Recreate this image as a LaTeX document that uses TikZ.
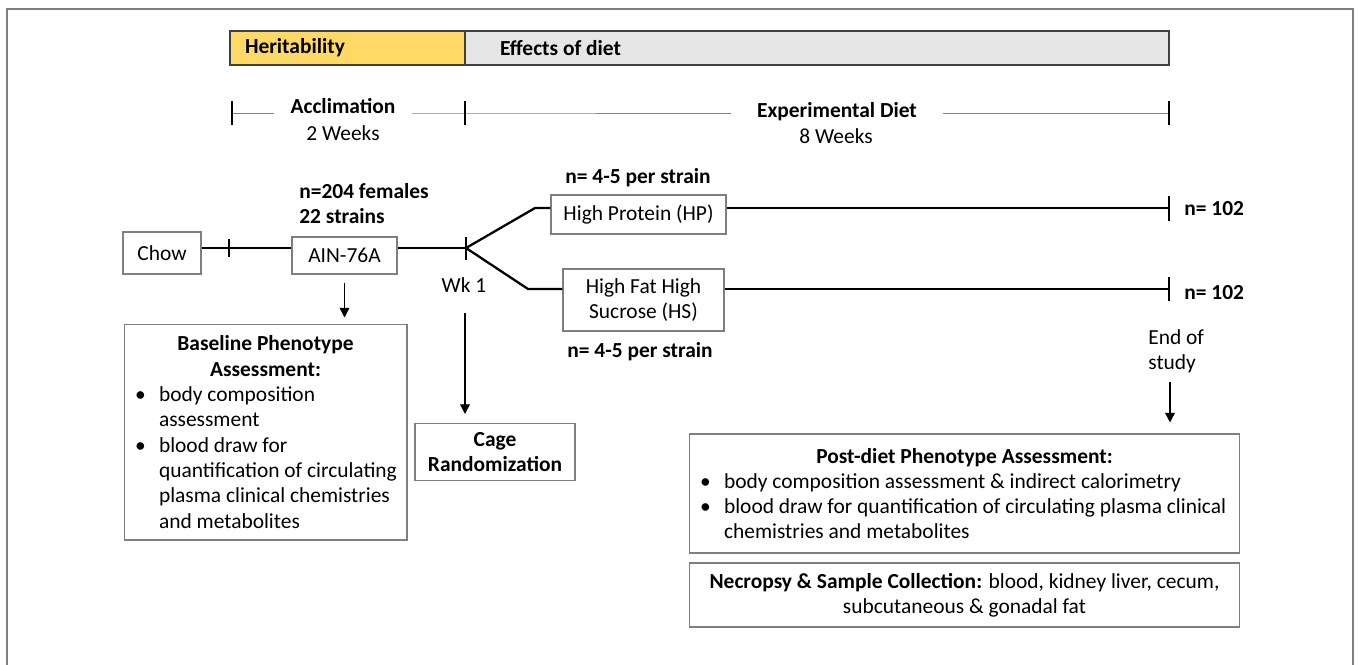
\documentclass[tikz,border=0pt]{standalone}
\usepackage{fontspec}
\setmainfont{Carlito}
\usepackage{tikz}
\usetikzlibrary{arrows.meta}
\definecolor{heritfill}{HTML}{FFD966}
\definecolor{dietfill}{HTML}{E7E6E6}
\definecolor{boxline}{HTML}{7F7F7F}
\definecolor{barline}{HTML}{404040}
\newcommand{\figfont}{\fontsize{12.2}{14.4}\selectfont}
\newcommand{\plainspace}{\spaceskip=0pt\relax\xspaceskip=0pt\relax\raggedright}
\newcommand{\bitem}[1]{\par\noindent\hangindent=7mm\hangafter=1\hbox to 7mm{\hspace{2.2mm}\textbullet\hfil}#1\par}
\tikzstyle{box}=[draw=boxline, line width=0.6pt, inner sep=0pt]
\tikzstyle{bar}=[draw=barline, line width=1.1pt, inner ysep=0pt, minimum height=6.8mm, font=\figfont\bfseries]
\tikzstyle{timeline}=[line width=1.3pt]
\tikzstyle{tick}=[line width=1.1pt]
\tikzstyle{span}=[line width=0.5pt, draw=boxline]
\tikzstyle{arrow}=[line width=0.7pt, -{Triangle[length=5.5pt,width=5.5pt]}]

\begin{document}
\begin{tikzpicture}[x=0.02cm, y=-0.02cm, font=\figfont]
    \useasboundingbox (0,0) rectangle (1358,664);
    \draw[draw=boxline, line width=0.8pt] (7,9) rectangle (1353,700);

    % phase bar
    \node[bar, fill=heritfill, text width=41mm, inner xsep=3mm] (herit) at (347.5,48) {\plainspace Heritability};
    \node[bar, fill=dietfill, text width=126.8mm, inner xsep=7mm] (diet) at (817,48) {\plainspace Effects of diet};

    % periods
    \coordinate (a0) at (232,113);
    \coordinate (a1) at (465,113);
    \coordinate (a2) at (1169,113);
    \node[font=\figfont\bfseries, inner xsep=3.3mm, anchor=base] (acclim) at (343,113) {Acclimation};
    \node[anchor=base] (twowk) at (343,140) {2 Weeks};
    \node[font=\figfont\bfseries, inner xsep=5.2mm, anchor=base] (expdiet) at (837,117) {Experimental Diet};
    \node[anchor=base] (eightwk) at (836,143) {8 Weeks};
    \draw[span] (a0) -- (acclim.west |- a0);
    \draw[span] (acclim.east |- a1) -- (a1) -- (expdiet.west |- a1);
    \draw[span] (expdiet.east |- a2) -- (a2);
    \foreach \c in {a0,a1,a2}
    \draw[tick] ([yshift=2.4mm]\c) -- ([yshift=-2.4mm]\c);

    % diets
    \node[box, minimum width=15.6mm, minimum height=8.4mm] (chow) at (162,253) {Chow};
    \node[box, minimum width=21mm, minimum height=7.4mm] (ain) at (344.5,255.5) {AIN-76A};
    \node[box, minimum width=35mm, minimum height=7.8mm] (hp) at (638.5,214.5) {High Protein (HP)};
    \node[box, minimum width=32.2mm, minimum height=12.4mm, align=center] (hs) at (643.5,300) {High Fat High\\Sucrose (HS)};

    \coordinate (t0) at (229,248);
    \coordinate (wk) at (466,248);
    \coordinate (hpfork) at (535,208);
    \coordinate (hsfork) at (528,289);
    \coordinate (hpend) at (1169,208);
    \coordinate (hsend) at (1169,289);
    \draw[timeline] (chow.east |- t0) -- (ain.west |- t0);
    \draw[timeline] (ain.east |- wk) -- (wk);
    \draw[timeline] (wk) -- (hpfork) -- (hp.west |- hpfork);
    \draw[timeline] (wk) -- (hsfork) -- (hs.west |- hsfork);
    \draw[timeline] (hp.east |- hpend) -- (hpend);
    \draw[timeline] (hs.east |- hsend) -- (hsend);
    \foreach \c/\h in {t0/1.8mm, wk/2.3mm, hpend/2.5mm, hsend/2.4mm}
    \draw[tick] ([yshift=\h]\c) -- ([yshift=-\h]\c);

    \node[font=\figfont\bfseries, anchor=north west, align=left, inner sep=0pt] (cohort) at (299,183) {n=204 females\\22 strains};
    \node[font=\figfont\bfseries, anchor=base] (hpn) at (638,183) {n= 4-5 per strain};
    \node[font=\figfont\bfseries, anchor=base] (hsn) at (640,357) {n= 4-5 per strain};
    \node[anchor=base] (wklabel) at (464,292) {Wk 1};
    \node[font=\figfont\bfseries, anchor=base west, inner sep=0pt] (hpend n) at (1184,215) {n= 102};
    \node[font=\figfont\bfseries, anchor=base west, inner sep=0pt] (hsend n) at (1184,299) {n= 102};
    \node[anchor=north west, align=left, inner sep=0pt] (endstudy) at (1148,329) {End of\\study};

    % assessments
    \node[box, text width=56.6mm, minimum height=43.2mm] (base) at (265.5,432) {\plainspace
      {\centering\bfseries Baseline Phenotype\\Assessment:\par}%
      \bitem{body composition\newline assessment}%
      \bitem{blood draw for\newline quantification of circulating\newline plasma clinical chemistries\newline and metabolites}};
    \node[box, minimum width=32mm, minimum height=11.4mm, align=center, font=\figfont\bfseries] (cage) at (495,452) {Cage\\Randomization};
    \node[box, text width=110.2mm, minimum height=23.8mm] (post) at (964.5,493.5) {\plainspace
      {\centering\bfseries Post-diet Phenotype Assessment:\par}%
      \bitem{body composition assessment \& indirect calorimetry}%
      \bitem{blood draw for quantification of circulating plasma clinical\newline chemistries and metabolites}};
    \node[box, minimum width=110.2mm, minimum height=12.8mm, align=center] (necro) at (964.5,595) {\textbf{Necropsy \& Sample Collection:} blood, kidney liver, cecum,\\subcutaneous \& gonadal fat};

    \coordinate (wkdown) at (465,313);
    \coordinate (enddown) at (1170,382);
    \draw[arrow] ([yshift=-1.6mm]ain.south) -- ([yshift=1.2mm]ain.south |- base.north);
    \draw[arrow] (wkdown) -- ([yshift=1.8mm]wkdown |- cage.north);
    \draw[arrow] (enddown) -- ([yshift=2.2mm]enddown |- post.north);
\end{tikzpicture}
\end{document}
